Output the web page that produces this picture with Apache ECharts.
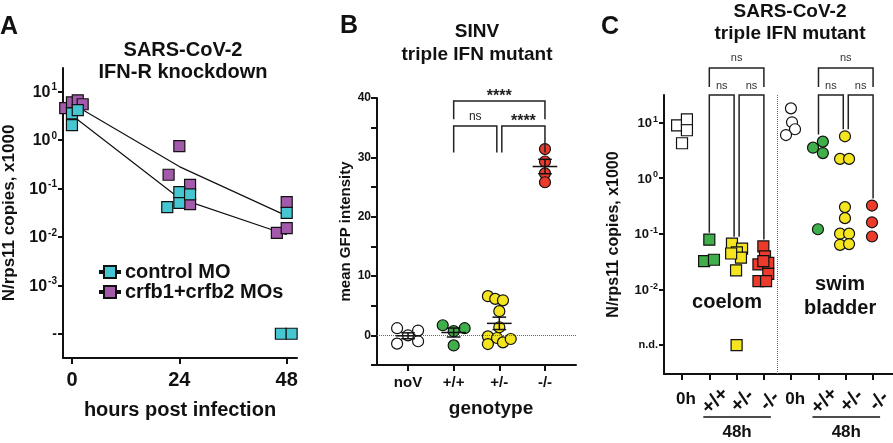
<!DOCTYPE html>
<html><head><meta charset="utf-8">
<script src="https://cdn.jsdelivr.net/npm/echarts@6/dist/echarts.min.js"></script>
<style>html,body{margin:0;padding:0;background:#fff}#c{width:893px;height:443px}</style>
</head><body><div id="c"></div>
<script>
// ---------------- DATA ----------------
// Panel A : SARS-CoV-2, IFN-R knockdown  ([hours post infection, N/rps11 copies x1000])
const ND_A = 1e-4;               // "not detected" level, panel A
const aXTicks = [0, 24, 48];
const aYTicks = [1e-4, 1e-3, 1e-2, 1e-1, 1, 10];
const aControl = [[0,3.5],[0,2.0],[1.3,4.1],[21.3,0.041],[24,0.05],[24,0.083],[26.4,0.075],[48,0.031],[46.7,ND_A],[49.1,ND_A]];
const aCrfb    = [[-1.5,4.5],[0,5.9],[1.3,6.5],[2.4,5.4],[24,0.74],[21.6,0.19],[26.4,0.118],[26.4,0.047],[48,0.052],[45.8,0.012],[48,0.015]];
const aControlMean = [[0,3.2],[24,0.062],[48,0.011]];
const aCrfbMean    = [[0,5.6],[24,0.28],[48,0.027]];
const aSeriesNames = ['control MO','crfb1+crfb2 MOs'];

// Panel B : SINV, triple IFN mutant ([genotype index, mean GFP intensity])
const bCats = ['noV','+/+','+/-','-/-'];
const bNoV = [[-0.24,1.2],[0.22,0.8],[-0.24,-1.4],[0.22,-1.0],[0,0.0]];
const bWT  = [[0.76,1.7],[1.0,0.7],[1.24,1.2],[1.0,-1.7]];
const bHet = [[1.75,6.6],[1.91,6.15],[2.08,5.9],[2.0,4.07],[2.0,1.36],[1.75,-0.17],[1.95,-0.45],[1.75,-1.47],[2.08,-1.19],[2.25,-0.62]];
const bKO  = [[3,31.4],[3,29.3],[3,27.3],[3,25.8]];
const bBrackets = [[1,3,0],[1,2,1],[2,3,1]];          // [from, to, level]
const bBracketLabels = ['****','ns','****'];

// Panel C : SARS-CoV-2, triple IFN mutant ([position index, N/rps11 copies x1000])
const ND_C = 1e-3;
const cYTicks = [1e-3, 1e-2, 1e-1, 1, 10];
const cTickPos = [0,1,2,3,4,5,6,7];
const cTimeLabelPos = [0,4];                 // "0h"
const cGenoPos = [1,2,3,5,6,7];
const cGenoLabels = ['+/+','+/-','-/-','+/+','+/-','-/-'];
const cTimeGroups = [[1,3],[5,7]];           // "48h"
const cCoelom0h  = [[-0.18,8.8],[0.18,11.3],[0.18,7.2],[0,4.2]];
const cCoelomWT  = [[1.0,0.078],[0.81,0.032],[1.17,0.034]];
const cCoelomHet = [[1.83,0.066],[2.2,0.054],[2.01,0.046],[2.16,0.037],[1.98,0.022],[1.8,0.044],[2.0,ND_C]];
const cCoelomKO  = [[2.98,0.059],[3.04,0.039],[2.8,0.028],[3.16,0.030],[2.98,0.032],[3.16,0.019],[2.8,0.014],[3.08,0.014]];
const cSwim0h  = [[3.99,17.8],[4.03,10],[4.14,7.5],[3.81,5.9]];
const cSwimWT  = [[4.8,3.5],[5.16,4.5],[5.16,2.8],[4.98,0.12]];
const cSwimHet = [[5.97,5.6],[5.79,2.2],[6.12,2.2],[5.97,0.30],[5.97,0.19],[5.79,0.10],[6.12,0.10],[5.79,0.063],[6.12,0.065]];
const cSwimKO  = [[6.96,0.32],[6.96,0.16],[6.96,0.089]];
const cBrackets = [[1,3,0],[1,2,1],[2,3,1],[5,7,0],[5,6,1],[6,7,1]];
const cBracketLabels = ['ns','ns','ns','ns','ns','ns'];
const cRegionText = ['coelom','swim\nbladder'];
const cRegionAt = [[1.65,0.0057],[5.79,0.0076]];

// ---------------- STYLE ----------------
const FONT = '"Liberation Sans", Arial, Helvetica, sans-serif';
const INK = '#111';
const COL = {cyan:'#45c6d0', purple:'#a45aaa', white:'#ffffff', green:'#3faf4a', yellow:'#f4e520', red:'#ec3a2b'};
const axisLine = {show:true, onZero:false, lineStyle:{color:INK, width:2}};
const tickStyle = {color:INK, width:2};
function supRich(base, sup){
  return {
    b:{fontSize:base, fontWeight:'bold', fontFamily:FONT, color:INK, verticalAlign:'bottom', lineHeight:base+2},
    s:{fontSize:sup, fontWeight:'bold', fontFamily:FONT, color:INK, verticalAlign:'top', lineHeight:base+2, padding:[0,0,0,1]}
  };
}
function logLabel(nd, ndText){
  return function(v){
    const e = Math.round(Math.log10(v));
    if (Math.abs(v - nd) / nd < 1e-6) return '{n|' + ndText + '}';
    return '{b|10}{s|' + e + '}';
  };
}
function meanSem(arr, center){
  const ys = arr.map(d => d[1]);
  const n = ys.length, m = ys.reduce((a,b)=>a+b,0)/n;
  const sd = Math.sqrt(ys.reduce((a,b)=>a+(b-m)*(b-m),0)/(n-1));
  return [center, m, sd/Math.sqrt(n)];
}
const bStats = [meanSem(bNoV,0), meanSem(bWT,1), meanSem(bHet,2), meanSem(bKO,3)];
const cGroupData = {1:cCoelomWT, 2:cCoelomHet, 3:cCoelomKO, 5:cSwimWT, 6:cSwimHet, 7:cSwimKO};
function groupMax(i){ return Math.max.apply(null, cGroupData[i].map(d=>d[1])); }

function sq(name, data, color, xi, yi, extra){
  return Object.assign({type:'scatter', name, data, xAxisIndex:xi, yAxisIndex:yi, symbol:'rect', symbolSize:11, z:3,
    itemStyle:{color, borderColor:INK, borderWidth:1.2, opacity:1}, emphasis:{disabled:true}}, extra||{});
}
function circ(name, data, color, xi, yi, extra){
  return Object.assign({type:'scatter', name, data, xAxisIndex:xi, yAxisIndex:yi, symbol:'circle', symbolSize:11, z:3,
    itemStyle:{color, borderColor:INK, borderWidth:1.2, opacity:1}, emphasis:{disabled:true}}, extra||{});
}
const dotted = (data) => ({silent:true, symbol:'none', label:{show:false}, animation:false,
  lineStyle:{type:'dotted', color:'#666', width:1}, emphasis:{disabled:true}, data});
function txt(x, y, text, size, extra){
  return Object.assign({type:'text', x, y, silent:true,
    style:Object.assign({text, fontSize:size, fontWeight:'bold', fontFamily:FONT, fill:INK, align:'center', verticalAlign:'middle'}, (extra||{}))});
}

const grids = [
  {left:63, top:68, width:234, height:290, outerBoundsMode:'none', containLabel:false},
  {left:377, top:98, width:199, height:267, outerBoundsMode:'none', containLabel:false},
  {left:664, top:95, width:229, height:279, outerBoundsMode:'none', containLabel:false}
];

const option = {
  animation:false,
  backgroundColor:'#fff',
  textStyle:{fontFamily:FONT},
  grid: grids,
  legend:{
    data:aSeriesNames, orient:'vertical', left:94, top:257, itemGap:0, itemWidth:20, itemHeight:12,
    icon:'path://M0,5h4v2h-4z M4,0h12v12h-12z M16,5h4v2h-4z',
    textStyle:{fontSize:20, fontWeight:'bold', fontFamily:FONT, color:INK},
    selectedMode:false
  },
  xAxis:[
    {gridIndex:0, type:'value', min:-2, max:50.3, axisLine,
      axisTick:{customValues:aXTicks, length:6, lineStyle:tickStyle},
      axisLabel:{customValues:aXTicks, fontSize:20, fontWeight:'bold', color:INK, margin:12, fontFamily:FONT},
      splitLine:{show:false},
      name:'hours post infection', nameLocation:'middle', nameGap:42,
      nameTextStyle:{fontSize:20, fontWeight:'bold', color:INK, fontFamily:FONT}},
    {gridIndex:1, type:'value', min:-0.68, max:3.68, axisLine,
      axisTick:{customValues:[0,1,2,3], length:6, lineStyle:tickStyle},
      axisLabel:{customValues:[0,1,2,3], formatter:v=>bCats[Math.round(v)], fontSize:15, fontWeight:'bold', color:INK, margin:10, fontFamily:FONT},
      splitLine:{show:false},
      name:'genotype', nameLocation:'middle', nameGap:34,
      nameTextStyle:{fontSize:19, fontWeight:'bold', color:INK, fontFamily:FONT, padding:[0,0,0,29]}},
    {gridIndex:2, type:'value', min:-0.66, max:7.73, axisLine,
      axisTick:{customValues:cTickPos, length:6, lineStyle:tickStyle},
      axisLabel:{customValues:cTimeLabelPos, formatter:()=> '0h', fontSize:17, fontWeight:'bold', color:INK, margin:17, fontFamily:FONT, padding:[0,0,0,8]},
      splitLine:{show:false}}
  ],
  yAxis:[
    {gridIndex:0, type:'log', logBase:10, min:Math.pow(10,-4.5), max:Math.pow(10,1.48), axisLine,
      axisTick:{customValues:aYTicks, length:5, lineStyle:tickStyle},
      axisLabel:{customValues:aYTicks, formatter:logLabel(ND_A,'-'), margin:6,
        rich:Object.assign(supRich(16,10), {n:{fontSize:14, fontWeight:'bold', color:INK, fontFamily:FONT}})},
      splitLine:{show:false}, minorTick:{show:false},
      name:'N/rps11 copies, x1000', nameLocation:'middle', nameGap:45, nameRotate:90,
      nameTextStyle:{fontSize:17, fontWeight:'bold', color:INK, fontFamily:FONT}},
    {gridIndex:1, type:'value', min:-5, max:40, interval:5, axisLine,
      axisTick:{length:6, lineStyle:tickStyle},
      axisLabel:{formatter:v=> (v>=0 && v%10===0) ? String(v) : '', fontSize:12, fontWeight:'bold', color:INK, margin:6, fontFamily:FONT},
      splitLine:{show:false},
      name:'mean GFP intensity', nameLocation:'middle', nameGap:23, nameRotate:90,
      nameTextStyle:{fontSize:15, fontWeight:'bold', color:INK, fontFamily:FONT}},
    {gridIndex:2, type:'log', logBase:10, min:Math.pow(10,-3.52), max:Math.pow(10,1.49), axisLine,
      axisTick:{customValues:cYTicks, length:5, lineStyle:tickStyle},
      axisLabel:{customValues:cYTicks, formatter:logLabel(ND_C,'n.d.'), margin:6,
        rich:Object.assign(supRich(13,9), {n:{fontSize:11, fontWeight:'bold', color:INK, fontFamily:FONT}})},
      splitLine:{show:false}, minorTick:{show:false},
      name:'N/rps11 copies, x1000', nameLocation:'middle', nameGap:42, nameRotate:90,
      nameTextStyle:{fontSize:16, fontWeight:'bold', color:INK, fontFamily:FONT}}
  ],
  graphic:[
    txt(0, 27, 'A', 25, {align:'left'}),
    txt(183, 50, 'SARS-CoV-2', 20),
    txt(183, 72, 'IFN-R knockdown', 20),
    txt(340, 26, 'B', 25, {align:'left'}),
    txt(477, 32, 'SINV', 19),
    txt(477, 55, 'triple IFN mutant', 19),
    txt(601, 27, 'C', 25, {align:'left'}),
    txt(790, 12, 'SARS-CoV-2', 19),
    txt(790, 34, 'triple IFN mutant', 19)
  ],
  series:[
    // ---- A ----
    {type:'line', data:aCrfbMean, xAxisIndex:0, yAxisIndex:0, symbol:'none', z:1, lineStyle:{color:INK, width:1.2}, silent:true},
    {type:'line', data:aControlMean, xAxisIndex:0, yAxisIndex:0, symbol:'none', z:1, lineStyle:{color:INK, width:1.2}, silent:true},
    sq(aSeriesNames[1], aCrfb, COL.purple, 0, 0),
    sq(aSeriesNames[0], aControl, COL.cyan, 0, 0, {markLine:dotted([{yAxis:ND_A}])}),
    // ---- B ----
    circ('noV', bNoV, COL.white, 1, 1, {markLine:dotted([{yAxis:0}])}),
    circ('+/+', bWT, COL.green, 1, 1),
    circ('+/-', bHet, COL.yellow, 1, 1),
    circ('-/-', bKO, COL.red, 1, 1),
    {type:'custom', xAxisIndex:1, yAxisIndex:1, data:bStats, encode:{x:0, y:1}, z:5, silent:true, clip:false,
      renderItem:(params, api)=>{
        const x = api.value(0), m = api.value(1), s = api.value(2);
        const c = api.coord([x, m]), hi = api.coord([x, m+s]), lo = api.coord([x, m-s]);
        const w = api.size([0.27, 0])[0], cw = api.size([0.15, 0])[0];
        const st = {stroke:INK, lineWidth:1.5};
        return {type:'group', children:[
          {type:'line', shape:{x1:c[0]-w, y1:c[1], x2:c[0]+w, y2:c[1]}, style:st},
          {type:'line', shape:{x1:c[0], y1:hi[1], x2:c[0], y2:lo[1]}, style:st},
          {type:'line', shape:{x1:c[0]-cw, y1:hi[1], x2:c[0]+cw, y2:hi[1]}, style:st},
          {type:'line', shape:{x1:c[0]-cw, y1:lo[1], x2:c[0]+cw, y2:lo[1]}, style:st}
        ]};
      }},
    {type:'custom', xAxisIndex:1, yAxisIndex:1, data:bBrackets, encode:{x:0, y:1}, z:5, silent:true, clip:false,
      renderItem:(params, api)=>{
        const i = params.dataIndex;
        const from = api.value(0), to = api.value(1), lvl = api.value(2);
        const lev = lvl === 0 ? {top:39.5, leg:36.4} : {top:35.3, leg:30.8};
        let x1 = api.coord([from, 0])[0], x2 = api.coord([to, 0])[0];
        if (bBrackets.some((b,j)=> j!==i && b[2]===lvl && b[1]===from)) x1 += 2.5;
        if (bBrackets.some((b,j)=> j!==i && b[2]===lvl && b[0]===to)) x2 -= 2.5;
        const yT = api.coord([0, lev.top])[1], yL = api.coord([0, lev.leg])[1];
        const lab = bBracketLabels[i];
        const star = lab !== 'ns';
        return {type:'group', children:[
          {type:'polyline', shape:{points:[[x1,yL],[x1,yT],[x2,yT],[x2,yL]]}, style:{stroke:'#222', lineWidth:1.5, fill:null}},
          {type:'text', x:(x1+x2)/2, y: star ? yT-4 : yT-9, style:{text:lab, fontSize: star?16:12, fontWeight: star?'bold':'normal', fontFamily:FONT, fill:'#222', align:'center', verticalAlign:'middle'}}
        ]};
      }},
    // ---- C ----
    sq('coelom 0h', cCoelom0h, COL.white, 2, 2, {markLine:dotted([{yAxis:ND_C},{xAxis:3.5}])}),
    sq('coelom +/+', cCoelomWT, COL.green, 2, 2),
    sq('coelom +/-', cCoelomHet, COL.yellow, 2, 2),
    sq('coelom -/-', cCoelomKO, COL.red, 2, 2),
    circ('swim 0h', cSwim0h, COL.white, 2, 2),
    circ('swim +/+', cSwimWT, COL.green, 2, 2),
    circ('swim +/-', cSwimHet, COL.yellow, 2, 2),
    circ('swim -/-', cSwimKO, COL.red, 2, 2),
    {type:'custom', xAxisIndex:2, yAxisIndex:2, data:cBrackets, encode:{x:0, y:1}, z:5, silent:true, clip:false,
      renderItem:(params, api)=>{
        const i = params.dataIndex;
        const from = api.value(0), to = api.value(1), lvl = api.value(2);
        const top = params.coordSys.y;
        let x1 = api.coord([from, 1])[0], x2 = api.coord([to, 1])[0];
        if (cBrackets.some((b,j)=> j!==i && b[2]===lvl && b[1]===from)) x1 += 2.5;
        if (cBrackets.some((b,j)=> j!==i && b[2]===lvl && b[0]===to)) x2 -= 2.5;
        let yT, yL1, yL2, ty;
        if (lvl === 0){ yT = top-27; yL1 = yL2 = top-8; ty = top-37; }
        else {
          yT = top; ty = top-9;
          yL1 = api.coord([from, groupMax(from)])[1] - 7;
          yL2 = api.coord([to, groupMax(to)])[1] - 7;
        }
        return {type:'group', children:[
          {type:'polyline', shape:{points:[[x1,yL1],[x1,yT],[x2,yT],[x2,yL2]]}, style:{stroke:'#222', lineWidth:1.5, fill:null}},
          {type:'text', x:(x1+x2)/2, y:ty, style:{text:cBracketLabels[i], fontSize:11, fontFamily:FONT, fill:'#333', align:'center', verticalAlign:'middle'}}
        ]};
      }},
    {type:'custom', xAxisIndex:2, yAxisIndex:2, data:cGenoPos.map(p=>[p,1]), encode:{x:0, y:1}, z:5, silent:true, clip:false,
      renderItem:(params, api)=>{
        const x = api.coord([api.value(0), 1])[0];
        const bottom = params.coordSys.y + params.coordSys.height;
        return {type:'text', x:x+6, y:bottom+27, rotation:Math.PI/4,
          style:{text:cGenoLabels[params.dataIndex], fontSize:20, fontWeight:'bold', fontFamily:FONT, fill:INK, align:'center', verticalAlign:'middle'}};
      }},
    {type:'custom', xAxisIndex:2, yAxisIndex:2, data:cTimeGroups, encode:{x:0, y:1}, z:5, silent:true, clip:false,
      renderItem:(params, api)=>{
        const x1 = api.coord([api.value(0), 1])[0] - 6, x2 = api.coord([api.value(1), 1])[0] + 7;
        const bottom = params.coordSys.y + params.coordSys.height;
        return {type:'group', children:[
          {type:'line', shape:{x1, y1:bottom+43, x2, y2:bottom+43}, style:{stroke:INK, lineWidth:1.5}},
          {type:'text', x:(x1+x2)/2, y:bottom+58, style:{text:'48h', fontSize:17, fontWeight:'bold', fontFamily:FONT, fill:INK, align:'center', verticalAlign:'middle'}}
        ]};
      }},
    {type:'custom', xAxisIndex:2, yAxisIndex:2, data:cRegionAt, encode:{x:0, y:1}, z:5, silent:true, clip:false,
      renderItem:(params, api)=>{
        const c = api.coord([api.value(0), api.value(1)]);
        return {type:'text', x:c[0], y:c[1],
          style:{text:cRegionText[params.dataIndex], fontSize:20, fontWeight:'bold', fontFamily:FONT, fill:INK, align:'center', verticalAlign:'middle', lineHeight:24}};
      }}
  ]
};
const chart = echarts.init(document.getElementById('c'), null, {renderer:'canvas', width:893, height:443});
chart.setOption(option);
</script>
</body></html>
